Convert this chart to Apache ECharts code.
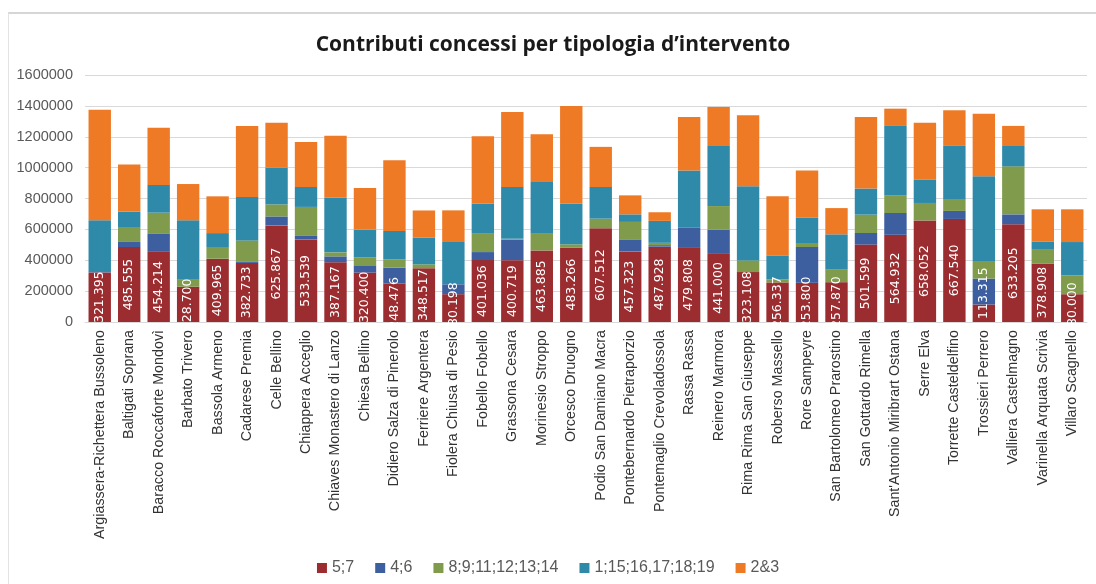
<!DOCTYPE html>
<html>
<head>
<meta charset="utf-8">
<script src="https://cdn.jsdelivr.net/npm/echarts@6/dist/echarts.min.js"></script>
<style>
html,body{margin:0;padding:0;background:#fff;}
#frame{position:absolute;left:8px;top:12px;width:1100px;height:600px;border-left:1px solid #e3e3e3;border-top:2px solid #d6d6d6;}
#chart{position:absolute;left:0;top:0;width:1096px;height:584px;}
</style>
</head>
<body>
<div id="frame"></div>
<div id="chart"></div>
<script>
const categories = ["Argiassera-Richettera Bussoleno","Baltigati Soprana","Baracco Roccaforte Mondovì","Barbato Trivero","Bassola Armeno","Cadarese Premia","Celle Bellino","Chiappera Acceglio","Chiaves Monastero di Lanzo","Chiesa Bellino","Didiero Salza di Pinerolo","Ferriere Argentera","Fiolera Chiusa di Pesio","Fobello Fobello","Grassona Cesara","Morinesio Stroppo","Orcesco Druogno","Podio San Damiano Macra","Pontebernardo Pietraporzio","Pontemaglio Crevoladossola","Rassa Rassa","Reinero Marmora","Rima Rima San Giuseppe","Roberso Massello","Rore Sampeyre","San Bartolomeo Prarostino","San Gottardo Rimella","Sant'Antonio Miribrart Ostana","Serre Elva","Torrette Casteldelfino","Trossieri Perrero","Valliera Castelmagno","Varinella Arquata Scrivia","Villaro Scagnello"];
const seriesNames = ["5;7","4;6","8;9;11;12;13;14","1;15;16,17;18;19","2&3"];
const s57 = [321395,485555,454214,228700,409965,382733,625867,533539,387167,320400,248476,348517,180198,401036,400719,463885,483266,607512,457323,487928,479808,441000,323108,256337,253800,257870,501599,564932,658052,667540,113315,633205,378908,180000];
const s46 = [8000,33000,120000,0,0,10000,58000,24000,38000,47000,104000,0,64000,52000,133000,0,0,0,78000,10000,131000,157000,0,0,232000,0,75000,141000,0,52000,168000,64000,0,0];
const s8_14 = [0,97000,134000,45000,76000,136000,78000,188000,26000,50000,52000,25000,0,123000,5000,108000,20000,62000,113000,15000,0,153000,76000,20000,26000,81000,119000,114000,113000,73000,114000,311000,89000,122000];
const s1_19 = [330000,100000,180000,385000,90000,281000,238000,129000,354000,181000,185000,172000,274000,190000,336000,335000,263000,205000,49000,142000,371000,389000,480000,155000,164000,229000,169000,450000,151000,348000,549000,132000,54000,216000];
const s2_3 = [715000,305000,370000,235000,238000,460000,291000,292000,402000,270000,458000,177000,205000,437000,486000,309000,633000,260000,123000,56000,346000,253000,460000,383000,306000,170000,464000,112000,369000,231000,405000,130000,208000,212000];
const yTicks = [0,200000,400000,600000,800000,1000000,1200000,1400000,1600000];
const colors = ["#9b2d30","#3d5fa0","#7f9b4b","#2f8aaa","#ee7a26"];

function fmt(v){ return String(v).replace(/\B(?=(\d{3})+(?!\d))/g,'.'); }

const dataSets = [s57,s46,s8_14,s1_19,s2_3];
const series = dataSets.map((d,i)=>({
  name: seriesNames[i],
  type: 'bar',
  stack: 'total',
  barCategoryGap: '24%',
  data: i===0 ? d.map(v => v < 150000 ? {value: v, label: {position: 'insideBottom', distance: 3, align: 'left', verticalAlign: 'middle'}} : v) : d,
  itemStyle: {color: colors[i]},
  label: i===0 ? {
    show: true, position: 'inside', rotate: 90, color: '#fff',
    fontFamily: 'DejaVu Sans', fontSize: 12.5,
    formatter: p => fmt(p.value)
  } : {show:false},
  emphasis: {disabled: true}
}));

const chart = echarts.init(document.getElementById('chart'), null, {renderer:'canvas'});
chart.setOption({
  animation: false,
  backgroundColor: 'transparent',
  title: {
    text: "Contributi concessi per tipologia d\u2019intervento",
    left: 548, top: 30, textAlign: 'center',
    textStyle: {fontFamily: 'Open Sans', fontWeight: 'bold', fontSize: 21, color: '#1a1a1a'}
  },
  legend: {
    top: 555, left: 'center',
    itemWidth: 10, itemHeight: 10, itemGap: 21,
    icon: 'rect',
    textStyle: {fontFamily: 'Liberation Sans', fontSize: 16, color: '#595959'},
    data: seriesNames
  },
  grid: {left: 85, right: 9, top: 75, bottom: 262, containLabel: false},
  xAxis: {
    type: 'category',
    data: categories,
    axisTick: {show:false},
    axisLine: {lineStyle: {color: '#d9d9d9'}},
    axisLabel: {rotate: 90, interval: 0, fontFamily: 'Liberation Sans', fontSize: 14.3, color: '#333', margin: 8}
  },
  yAxis: {
    type: 'value', min: 0, max: 1600000, interval: 200000,
    axisLabel: {fontFamily: 'Liberation Sans', fontSize: 14.5, color: '#595959', margin: 12,
      formatter: v => yTicks.includes(v) ? String(v) : ''},
    splitLine: {lineStyle: {color: '#d9d9d9'}},
    axisLine: {show:false}, axisTick: {show:false}
  },
  series: series
});
</script>
</body>
</html>
